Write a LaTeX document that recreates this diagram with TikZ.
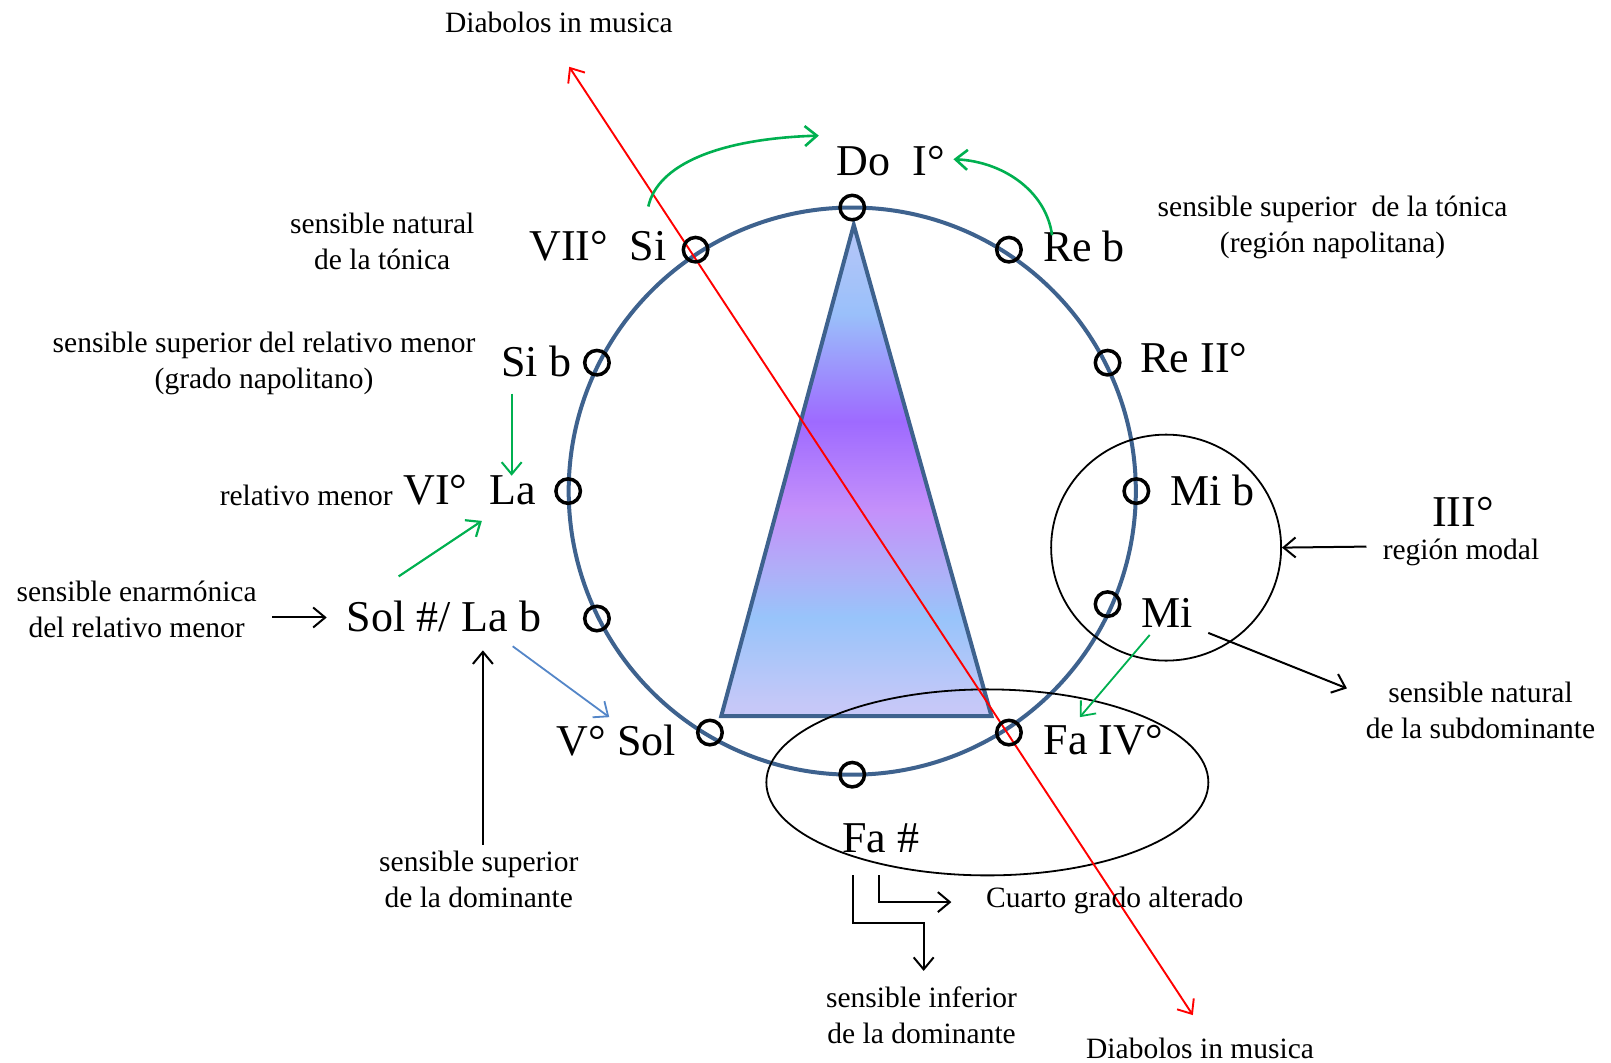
\documentclass[tikz,border=0pt]{standalone}
\usepackage{fontspec}
\setmainfont{Liberation Serif}
\usetikzlibrary{arrows.meta,shapes.geometric}
\definecolor{ringblue}{RGB}{62,98,142}
\definecolor{grn}{RGB}{0,176,80}
\definecolor{lblue}{RGB}{84,134,200}
\definecolor{triA}{RGB}{198,200,248}
\definecolor{triB}{RGB}{152,196,250}
\definecolor{triC}{RGB}{176,174,248}
\definecolor{triD}{RGB}{196,144,250}
\definecolor{triE}{RGB}{158,106,255}
\definecolor{triF}{RGB}{154,192,250}
\definecolor{triG}{RGB}{182,198,248}
\pgfdeclareverticalshading{trishade}{100bp}{color(0bp)=(triA); color(26bp)=(triA); color(35bp)=(triB); color(40bp)=(triC); color(46bp)=(triD); color(55bp)=(triE); color(66bp)=(triF); color(74.5bp)=(triG); color(100bp)=(triG)}
\begin{document}
\begin{tikzpicture}[x=1.0274pt,y=-1.0274pt,
  small/.style={font=\fontsize{29.5}{36}\selectfont, align=center, inner sep=0pt},
  big/.style={font=\fontsize{44}{50}\selectfont, inner sep=0pt},
  dot/.style={circle, draw=black, line width=3.5pt, minimum size=24.5pt, inner sep=0pt},
  region/.style={ellipse, draw=black, line width=1.8pt, inner sep=0pt},
  tip/.style={-{Straight Barb[length=12pt,width=20pt]}},
  blk/.style={tip, draw=black, line width=2pt},
  grnarr/.style={tip, draw=grn, line width=2.6pt},
  bluearr/.style={tip, draw=lblue, line width=1.8pt},
  ]
\useasboundingbox[fill=white] (0,0) rectangle (1568,1034);
% ring
\coordinate (C) at (829.5,478);
\draw[ringblue, line width=4pt] (C) circle (276);
% triangle
\coordinate (apex) at (831,219);
\coordinate (bl) at (702,697);
\coordinate (br) at (965,697);
\shade[shading=trishade] (apex) -- (bl) -- (br) -- cycle;
\draw[ringblue, line width=4pt] (apex) -- (bl) -- (br) -- cycle;
% regions
\node[region, minimum width=230pt, minimum height=226pt] (modal) at (1135,533) {};
\node[region, minimum width=442pt, minimum height=186pt] (faregion) at (961,761.5) {};
% red tritone line
\coordinate (r1) at (554,65);
\coordinate (r2) at (1161,988);
\draw[red, line width=1.9pt, {Straight Barb[length=12pt,width=20pt]}-{Straight Barb[length=12pt,width=20pt]}] (r1) -- (r2);
% note circles
\foreach \n/\x/\y in {do/829.5/202, reb/982/243, reII/1078/353, mib/1106/478, mi/1078/588, faIV/982/713, fas/829.5/754, sol/691/713, sols/581/602, la/553/478, sib/581/353, si/677/243}
  \node[dot] (\n) at (\x,\y) {};
% labels
\node[small] (diatop) at (544,22) {Diabolos in musica};
\node[small] (diabot) at (1168,1020) {Diabolos in musica};
\node[big] (tDo) at (867,157) {Do~~I°};
\node[big] (tSi) at (582,240) {VII°~~Si};
\node[big] (tReb) at (1055,240) {Re b};
\node[big] (tReII) at (1162,349) {Re II°};
\node[big] (tSib) at (522,352) {Si b};
\node[big] (tLa) at (457,477) {VI°~~La};
\node[big] (tMib) at (1180,477) {Mi b};
\node[big] (tIII) at (1424,498) {III°};
\node[big] (tMi) at (1136,597) {Mi};
\node[big] (tSols) at (432,600) {Sol \#/ La b};
\node[big] (tSol) at (600,721) {V° Sol};
\node[big] (tFaIV) at (1074,720) {Fa IV°};
\node[big] (tFas) at (857,816) {Fa \#};
\node[small] (sNatTon) at (372,235) {sensible natural\\de la tónica};
\node[small] (sSupTon) at (1297,221) {sensible superior~~de la tónica\\(región napolitana)};
\node[small] (sSupRel) at (257,354) {sensible superior del relativo menor\\(grado napolitano)};
\node[small] (sRel) at (298,482) {relativo menor};
\node[small] (sModal) at (1422,538) {región modal};
\node[small] (sEnarm) at (133,593) {sensible enarmónica\\del relativo menor};
\node[small] (sNatSub) at (1441,691) {sensible natural\\de la subdominante};
\node[small] (sSupDom) at (466,856) {sensible superior\\de la dominante};
\node[small] (sCuarto) at (1085,876) {Cuarto grado alterado};
\node[small] (sInfDom) at (897,988) {sensible inferior\\de la dominante};
% green arcs to Do
\coordinate (g1s) at (631,201);
\coordinate (g1e) at (797,132);
\draw[grnarr] (g1s) .. controls (640,160) and (700,135) .. (g1e);
\coordinate (g2s) at (1024,229);
\coordinate (g2e) at (928,155);
\draw[grnarr] (g2s) .. controls (1018,185) and (975,157) .. (g2e);
% Si b -> La
\coordinate (g3s) at (498,383);
\coordinate (g3e) at (498,463);
\draw[grnarr, line width=2pt] (g3s) -- (g3e);
% Sol# -> La
\coordinate (g4s) at (388,561);
\coordinate (g4e) at (469,507);
\draw[grnarr, line width=2.2pt] (g4s) -- (g4e);
% Sol# -> Sol
\coordinate (b1s) at (499,629);
\coordinate (b1e) at (593,698);
\draw[bluearr] (b1s) -- (b1e);
% enarmonica -> Sol#
\coordinate (k1s) at (265,601);
\coordinate (k1e) at (318,601);
\draw[blk] (k1s) -- (k1e);
% superior de la dominante -> Sol#
\coordinate (k2s) at (470,822);
\coordinate (k2e) at (470,633);
\draw[blk] (k2s) -- (k2e);
% region modal -> circle
\coordinate (k3s) at (1330,532);
\draw[blk] (k3s) -- (modal.east);
% Mi -> sensible natural de la subdominante
\coordinate (k4s) at (1176,616);
\coordinate (k4e) at (1311,670);
\draw[blk] (k4s) -- (k4e);
% Mi -> Fa
\coordinate (g5s) at (1119,618);
\coordinate (g5e) at (1051,698);
\draw[grnarr, line width=1.8pt] (g5s) -- (g5e);
% Fa# elbows
\coordinate (e1s) at (856,852);
\coordinate (e1e) at (926,878);
\draw[blk] (e1s) |- (e1e);
\coordinate (e2s) at (830,852);
\coordinate (e2m) at (899,898);
\coordinate (e2e) at (899,945);
\draw[blk] (e2s) |- (e2m) -- (e2e);
\end{tikzpicture}
\end{document}
